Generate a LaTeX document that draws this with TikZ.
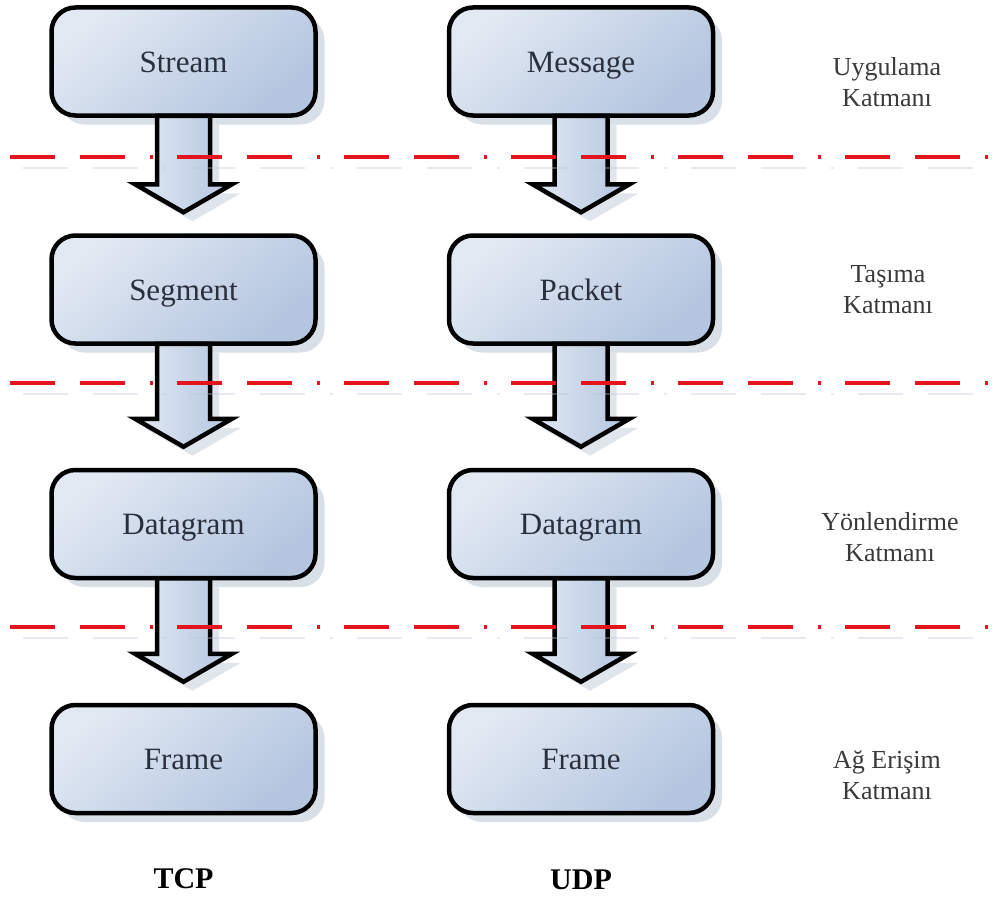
\documentclass[tikz,border=0pt]{standalone}
\usepackage{fontspec}
\setmainfont{Liberation Serif}
\usetikzlibrary{shadows,calc}
\definecolor{boxlight}{HTML}{E2E9F3}
\definecolor{boxdark}{HTML}{B3C5DF}
\definecolor{shadowc}{HTML}{BAC4D3}
\definecolor{dashred}{HTML}{E3141B}
\definecolor{txtc}{HTML}{2A2F3C}
\definecolor{labc}{HTML}{3A3A3A}
\newcommand{\blockarrow}[2]{%
  \draw[blockarr] ($(#1.south)+(-26.5,-2)$) -- ($(#2.north)+(-26.5,-49)$)
    -- ($(#2.north)+(-48.5,-49)$) -- ($(#2.north)+(0,-21)$)
    -- ($(#2.north)+(48.5,-49)$) -- ($(#2.north)+(26.5,-49)$)
    -- ($(#1.south)+(26.5,-2)$) -- cycle;}
\begin{document}
\begin{tikzpicture}[x=1pt,y=-1pt,
  layerbox/.style={draw=black, line width=4.5pt, rounded corners=24pt,
    minimum width=264pt, minimum height=108pt, inner sep=0pt,
    text height=28pt, text depth=7pt,
    top color=boxlight, bottom color=boxdark, shading angle=40,
    font=\fontsize{31}{36}\selectfont, text=txtc,
    drop shadow={shadow xshift=9pt, shadow yshift=-9pt, fill=shadowc, opacity=0.55}},
  blockarr/.style={draw=black, line width=4.5pt, line join=miter,
    left color=boxlight, right color=boxdark,
    drop shadow={shadow xshift=9pt, shadow yshift=-9pt, fill=shadowc, opacity=0.45}},
  sidelab/.style={align=center, font=\fontsize{26}{31}\selectfont, text=labc, inner sep=0pt},
  protolab/.style={font=\fontsize{30}{34}\selectfont\bfseries, text=black, inner sep=0pt},
  redline/.style={draw=dashred, line width=4.5pt,
    dash pattern=on 45pt off 25pt on 45pt off 25pt on 3pt off 24pt},
  redshadow/.style={draw=shadowc, line width=2pt, opacity=0.35,
    dash pattern=on 45pt off 25pt on 45pt off 25pt on 3pt off 24pt}
]
\useasboundingbox (0,0) rectangle (995,899);

% boxes
\node[layerbox] (stream)  at (183.5,61.5) {Stream};
\node[layerbox] (message) at (581,61.5)   {Message};
\node[layerbox] (segment) at (183.5,289.5) {Segment};
\node[layerbox] (packet)  at (581,289.5)  {Packet};
\node[layerbox] (dgtcp)   at (183.5,524)  {Datagram};
\node[layerbox] (dgudp)   at (581,524)    {Datagram};
\node[layerbox] (frtcp)   at (183.5,759)  {Frame};
\node[layerbox] (frudp)   at (581,759)    {Frame};

% block arrows
\blockarrow{stream}{segment}
\blockarrow{message}{packet}
\blockarrow{segment}{dgtcp}
\blockarrow{packet}{dgudp}
\blockarrow{dgtcp}{frtcp}
\blockarrow{dgudp}{frudp}

% layer separators
\coordinate (l1a) at (10,157);  \coordinate (l1b) at (993,157);
\coordinate (l2a) at (10,383);  \coordinate (l2b) at (993,383);
\coordinate (l3a) at (10,627);  \coordinate (l3b) at (993,627);
\foreach \a/\b in {l1a/l1b, l2a/l2b, l3a/l3b}{
  \draw[redshadow] ($(\a)+(13,11)$) -- ($(\b)+(0,11)$);
  \draw[redline] (\a) -- (\b);
}

% layer names
\node[sidelab] (app)  at (887,82)  {Uygulama\\Katmanı};
\node[sidelab] (trn)  at (888,290) {Taşıma\\Katmanı};
\node[sidelab] (rout) at (890,537) {Yönlendirme\\Katmanı};
\node[sidelab] (acc)  at (887,775) {Ağ Erişim\\Katmanı};

% protocol names
\node[protolab] (tcp) at (183.5,879) {TCP};
\node[protolab] (udp) at (581,880)   {UDP};
\end{tikzpicture}
\end{document}
